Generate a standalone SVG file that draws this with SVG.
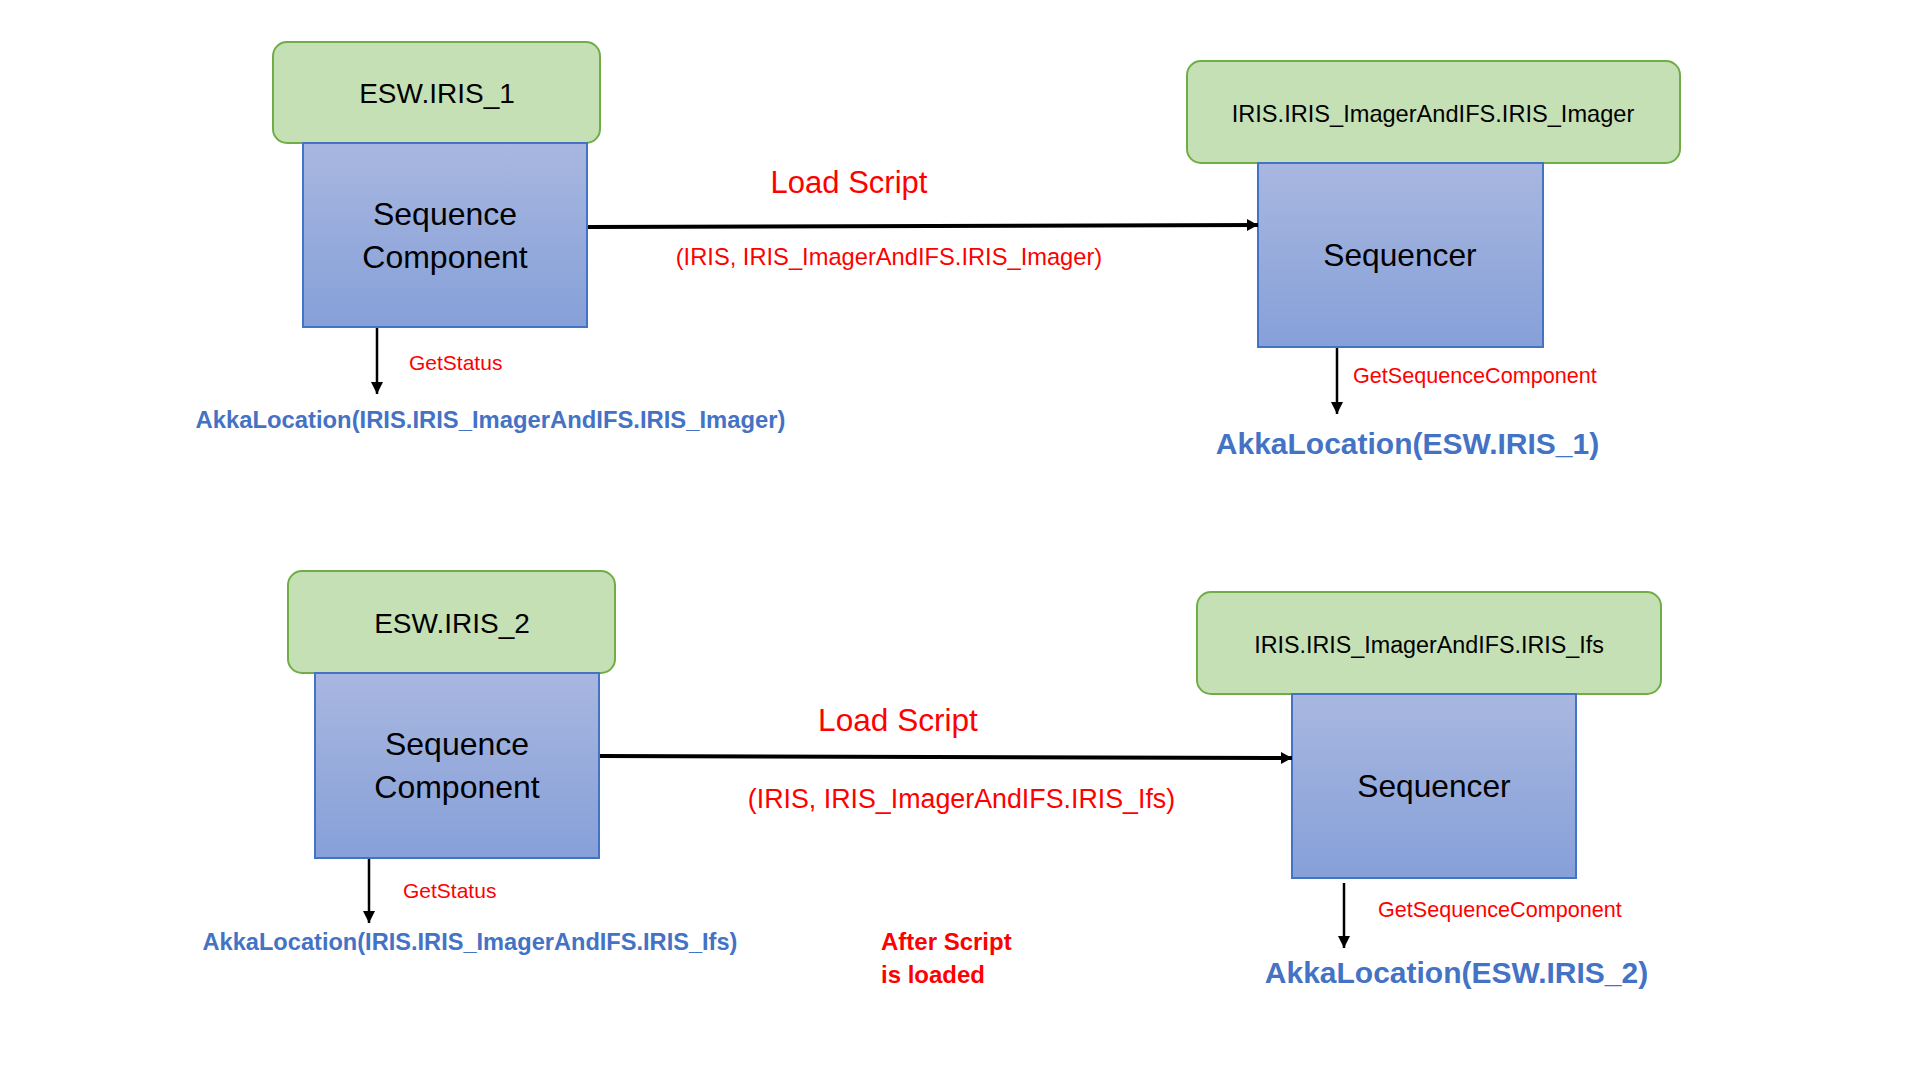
<svg xmlns="http://www.w3.org/2000/svg" width="1920" height="1080" viewBox="0 0 1920 1080">
<defs>
<linearGradient id="blueGrad" x1="0" y1="0" x2="0" y2="1">
<stop offset="0" stop-color="#A8B7E0"/>
<stop offset="1" stop-color="#86A0D8"/>
</linearGradient>
<marker id="headBig" markerUnits="userSpaceOnUse" markerWidth="12" markerHeight="14" refX="11" refY="7" orient="auto">
<path d="M0,1 L11,7 L0,13 z" fill="#000"/>
</marker>
<marker id="headSmall" markerUnits="userSpaceOnUse" markerWidth="14" markerHeight="14" refX="12" refY="6.5" orient="auto">
<path d="M0,0.5 L12,6.5 L0,12.5 z" fill="#000"/>
</marker>
</defs>
<style>
.green{fill:#C5E0B4;stroke:#70AD47;stroke-width:2}
.blue{fill:url(#blueGrad);stroke:#4472C4;stroke-width:2}
.t{font-family:"Liberation Sans","Open Sans",Arial,sans-serif;fill:#000}
.red{font-family:"Liberation Sans","Open Sans",Arial,sans-serif;fill:#FF0000}
.loc{font-family:"Liberation Sans","Open Sans",Arial,sans-serif;fill:#4472C4;font-weight:bold}
.redb{font-family:"Liberation Sans","Open Sans",Arial,sans-serif;fill:#FF0000;font-weight:bold}
.c{text-anchor:middle}
.main{stroke:#000;stroke-width:4;fill:none;marker-end:url(#headBig)}
.down{stroke:#000;stroke-width:2.5;fill:none;marker-end:url(#headSmall)}
</style>
<rect width="1920" height="1080" fill="#FFFFFF"/>

<g id="esw-iris-1">
<rect class="green" x="273" y="42" width="327" height="101" rx="14"/>
<text class="t c" x="437" y="103" font-size="28">ESW.IRIS_1</text>
</g>
<g id="seqcomp-1">
<rect class="blue" x="303" y="143" width="284" height="184"/>
<text class="t c" x="445" y="225" font-size="32">Sequence</text>
<text class="t c" x="445" y="268" font-size="32">Component</text>
</g>

<g id="iris-imager">
<rect class="green" x="1187" y="61" width="493" height="102" rx="14"/>
<text class="t c" x="1433" y="122" font-size="23.6">IRIS.IRIS_ImagerAndIFS.IRIS_Imager</text>
</g>
<g id="sequencer-1">
<rect class="blue" x="1258" y="163" width="285" height="184"/>
<text class="t c" x="1400" y="266" font-size="31.7">Sequencer</text>
</g>

<g id="esw-iris-2">
<rect class="green" x="288" y="571" width="327" height="102" rx="14"/>
<text class="t c" x="452" y="633" font-size="28">ESW.IRIS_2</text>
</g>
<g id="seqcomp-2">
<rect class="blue" x="315" y="673" width="284" height="185"/>
<text class="t c" x="457" y="755" font-size="32">Sequence</text>
<text class="t c" x="457" y="798" font-size="32">Component</text>
</g>

<g id="iris-ifs">
<rect class="green" x="1197" y="592" width="464" height="102" rx="14"/>
<text class="t c" x="1429" y="653" font-size="23.3">IRIS.IRIS_ImagerAndIFS.IRIS_Ifs</text>
</g>
<g id="sequencer-2">
<rect class="blue" x="1292" y="694" width="284" height="184"/>
<text class="t c" x="1434" y="797" font-size="31.7">Sequencer</text>
</g>

<g id="connectors">
<line class="main" x1="588" y1="227" x2="1258" y2="225"/>
<line class="main" x1="600" y1="756" x2="1292" y2="758"/>
<line class="down" x1="377" y1="328" x2="377" y2="394"/>
<line class="down" x1="1337" y1="348" x2="1337" y2="414"/>
<line class="down" x1="369" y1="859" x2="369" y2="923"/>
<line class="down" x1="1344" y1="883" x2="1344" y2="948"/>
</g>

<g id="labels">
<text class="red c" x="849" y="193" font-size="31">Load Script</text>
<text class="red c" x="889" y="265" font-size="23.7">(IRIS, IRIS_ImagerAndIFS.IRIS_Imager)</text>
<text class="red" x="409" y="370" font-size="21">GetStatus</text>
<text class="loc c" x="490.5" y="428" font-size="23.8">AkkaLocation(IRIS.IRIS_ImagerAndIFS.IRIS_Imager)</text>
<text class="red" x="1353" y="383" font-size="21.6">GetSequenceComponent</text>
<text class="loc c" x="1407.5" y="454" font-size="30">AkkaLocation(ESW.IRIS_1)</text>

<text class="red c" x="898" y="731" font-size="31.6">Load Script</text>
<text class="red c" x="961.5" y="808" font-size="26.8">(IRIS, IRIS_ImagerAndIFS.IRIS_Ifs)</text>
<text class="red" x="403" y="898" font-size="21">GetStatus</text>
<text class="loc c" x="470" y="950" font-size="23.6">AkkaLocation(IRIS.IRIS_ImagerAndIFS.IRIS_Ifs)</text>
<text class="redb" x="881" y="950" font-size="24">After Script</text>
<text class="redb" x="881" y="983" font-size="24">is loaded</text>
<text class="red" x="1378" y="917" font-size="21.6">GetSequenceComponent</text>
<text class="loc c" x="1456.5" y="983" font-size="30">AkkaLocation(ESW.IRIS_2)</text>
</g>
</svg>
